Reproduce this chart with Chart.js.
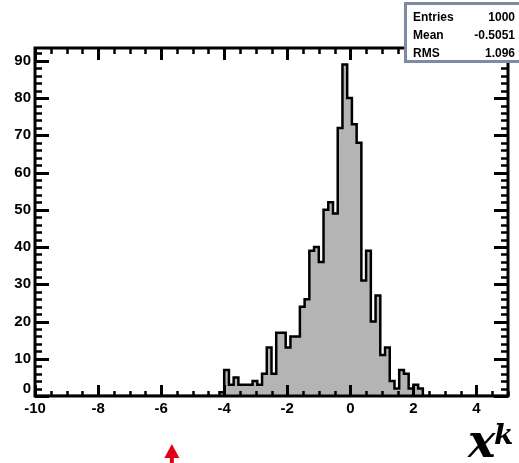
<!DOCTYPE html>
<html>
<head>
<meta charset="utf-8">
<script src="https://cdn.jsdelivr.net/npm/chart.js@4/dist/chart.umd.min.js"></script>
<style>
  html, body { margin: 0; padding: 0; background: #fff; }
  canvas { display: block; }
</style>
</head>
<body>
<canvas id="grafico" width="519" height="463"></canvas>
<script>
// histogram binning
const xMin = -10;
const xMax = 5;
const binWidth = 0.15;
const yMax = 93.45;

// bin contents, 100 bins from -10 to 5
const counts = [
  0, 0, 0, 0, 0, 0, 0, 0, 0, 0,
  0, 0, 0, 0, 0, 0, 0, 0, 0, 0,
  0, 0, 0, 0, 0, 0, 0, 0, 0, 0,
  0, 0, 0, 0, 0, 0, 0, 0, 0, 1,
  7, 3, 5, 3, 3, 3, 4, 3, 6, 13,
  6, 17, 17, 13, 16, 16, 24, 26, 39, 40,
  36, 50, 52, 49, 72, 89, 80, 73, 68, 31,
  39, 20, 27, 11, 13, 4, 2, 7, 6, 2,
  3, 2, 0, 0, 0, 0, 0, 0, 0, 0,
  0, 0, 0, 0, 0, 0, 0, 0, 0, 0
];

const xTicks = [-10, -8, -6, -4, -2, 0, 2, 4];
const yTicks = [0, 10, 20, 30, 40, 50, 60, 70, 80, 90];

const statsLabels = ["Entries", "Mean", "RMS"];
const statsValues = ["1000", "-0.5051", "1.096"];

const axisTitle = "x";
const axisTitleSup = "k";
const markerX = -5.66;

// stepped points: one per bin low edge, plus the closing edge
const puntos = counts.map((c, i) => ({ x: xMin + i * binWidth, y: c }));
puntos.push({ x: xMax, y: 0 });

const fuenteCss = "bold 15px 'Liberation Sans', Arial, sans-serif";

const fondo = {
  id: "fondo",
  beforeDraw(chart) {
    const c = chart.ctx;
    c.save();
    c.fillStyle = "#fff";
    c.fillRect(0, 0, chart.width, chart.height);
    c.restore();
  }
};

// ROOT-like frame with inside ticks on all four sides
const marco = {
  id: "marco",
  afterDatasetsDraw(chart) {
    const c = chart.ctx;
    const a = chart.chartArea;
    const sx = chart.scales.x;
    const sy = chart.scales.y;
    c.save();
    c.strokeStyle = "#000";
    c.lineCap = "butt";

    // x ticks every 0.5, major every 2
    for (let k = 0; k <= 30; k++) {
      const v = xMin + k * 0.5;
      const px = Math.round(sx.getPixelForValue(v)) + 0.5;
      const major = k % 4 === 0;
      c.lineWidth = major ? 3 : 2.5;
      const lb = major ? 11 : 5;
      const lt = major ? 12 : 6;
      c.beginPath();
      c.moveTo(px, a.bottom);
      c.lineTo(px, a.bottom - lb);
      c.moveTo(px, a.top);
      c.lineTo(px, a.top + lt);
      c.stroke();
    }

    // y ticks every 2, major every 10
    for (let v = 0; v <= 92; v += 2) {
      const py = Math.round(sy.getPixelForValue(v)) + 0.5;
      const major = v % 10 === 0;
      c.lineWidth = major ? 3 : 2.5;
      const l = major ? 14 : 7;
      c.beginPath();
      c.moveTo(a.left, py);
      c.lineTo(a.left + l, py);
      c.moveTo(a.right, py);
      c.lineTo(a.right - l, py);
      c.stroke();
    }

    c.lineWidth = 3;
    c.strokeRect(a.left, a.top, a.right - a.left, a.bottom - a.top);

    // the "0" label of the y axis sits a little higher, as ROOT does it
    c.fillStyle = "#000";
    c.font = fuenteCss;
    c.textAlign = "right";
    c.textBaseline = "middle";
    c.fillText(String(yTicks[0]), a.left - 4, sy.getPixelForValue(yTicks[0]) - 7);
    c.restore();
  },
  afterDraw(chart) {
    const c = chart.ctx;
    const sx = chart.scales.x;
    c.save();

    // stats box
    c.fillStyle = "#fff";
    c.fillRect(405, 3, 120, 59);
    c.strokeStyle = "#7e8ba1";
    c.lineWidth = 3;
    c.strokeRect(405.5, 3.5, 120, 58);
    c.fillStyle = "#000";
    c.font = "bold 12px 'Liberation Sans', Arial, sans-serif";
    c.textBaseline = "middle";
    statsLabels.forEach((t, i) => {
      const yy = 18 + i * 18;
      c.textAlign = "left";
      c.fillText(t, 413, yy);
      c.textAlign = "right";
      c.fillText(statsValues[i], 515, yy);
    });

    // axis title x^k
    c.textAlign = "left";
    c.textBaseline = "alphabetic";
    c.font = "bold italic 46px 'DejaVu Serif', 'Liberation Serif', serif";
    c.fillText(axisTitle, 468, 457);
    c.font = "bold italic 28px 'DejaVu Serif', 'Liberation Serif', serif";
    c.fillText(axisTitleSup, 494, 444);

    // red marker arrow under the axis
    const mx = sx.getPixelForValue(markerX);
    c.fillStyle = "#e3001b";
    c.beginPath();
    c.moveTo(mx, 444);
    c.lineTo(mx - 7.5, 458);
    c.lineTo(mx + 7.5, 458);
    c.closePath();
    c.fill();
    c.fillRect(mx - 2, 457, 4, 6);
    c.restore();
  }
};

const fuente = { family: "'Liberation Sans', Arial, sans-serif", size: 15, weight: "bold" };

const chart = new Chart(document.getElementById("grafico").getContext("2d"), {
  type: "line",
  data: {
    datasets: [
      {
        data: puntos,
        stepped: "before",
        fill: "origin",
        backgroundColor: "#b4b4b4",
        borderColor: "#000",
        borderWidth: 2.5,
        pointRadius: 0,
        tension: 0
      }
    ]
  },
  options: {
    responsive: false,
    animation: false,
    events: [],
    layout: { padding: { top: 48, right: 11, left: 0, bottom: 0 } },
    plugins: {
      legend: { display: false },
      tooltip: { enabled: false },
      title: { display: false }
    },
    scales: {
      x: {
        type: "linear",
        min: xMin,
        max: xMax,
        afterBuildTicks: (s) => { s.ticks = xTicks.map(v => ({ value: v })); },
        afterFit: (s) => { s.height = 67; },
        grid: { display: false, drawTicks: false },
        border: { display: false },
        ticks: { color: "#000", font: fuente, padding: 4, maxRotation: 0, autoSkip: false }
      },
      y: {
        type: "linear",
        min: 0,
        max: yMax,
        afterBuildTicks: (s) => { s.ticks = yTicks.map(v => ({ value: v })); },
        afterFit: (s) => { s.width = 35; },
        grid: { display: false, drawTicks: false },
        border: { display: false },
        ticks: {
          color: "#000",
          font: fuente,
          padding: 4,
          autoSkip: false,
          callback: (v) => (v === yTicks[0] ? "" : v)
        }
      }
    }
  },
  plugins: [fondo, marco]
});
</script>
</body>
</html>
